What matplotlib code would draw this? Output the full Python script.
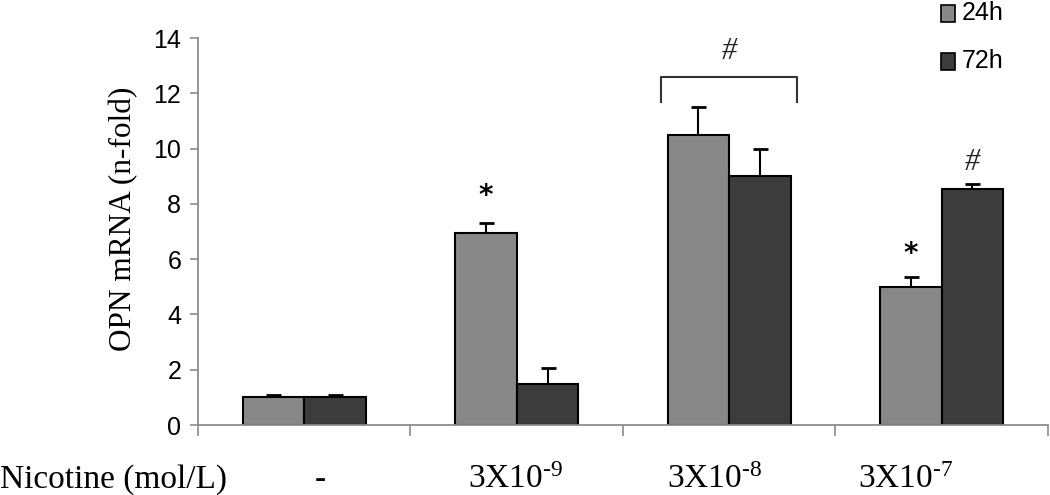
import numpy as np
import matplotlib.pyplot as plt

plt.rcParams['mathtext.fontset'] = 'custom'
plt.rcParams['mathtext.rm'] = 'Liberation Serif'
plt.rcParams['mathtext.it'] = 'Liberation Serif:italic'

# data
groups = ['-', r'3X10$^{\mathrm{\text{-}9}}$', r'3X10$^{\mathrm{\text{-}8}}$', r'3X10$^{\mathrm{\text{-}7}}$']
mean_24h = [1.0, 6.95, 10.5, 5.0]
err_24h = [0.1, 0.35, 1.0, 0.37]
mean_72h = [1.0, 1.5, 9.0, 8.55]
err_72h = [0.1, 0.55, 1.0, 0.17]
yticks = [0, 2, 4, 6, 8, 10, 12, 14]

c24 = '#888888'
c72 = '#3c3c3c'
axis_col = '#8c8c8c'

fig = plt.figure(figsize=(10.5, 4.95), dpi=100)
ax = fig.add_axes([0.1886, 0.1414, 0.8094, 0.7818])

x = np.arange(len(groups)) + 0.5
w = 0.29
ax.bar(x - w / 2, mean_24h, w, color=c24, edgecolor='black', linewidth=1.5, zorder=2)
ax.bar(x + w / 2, mean_72h, w, color=c72, edgecolor='black', linewidth=1.5, zorder=2)
ax.errorbar(x - w / 2, mean_24h, yerr=[np.zeros(4), err_24h], fmt='none',
            ecolor='black', elinewidth=1.5, capsize=5.4, capthick=2, zorder=1)
ax.errorbar(x + w / 2, mean_72h, yerr=[np.zeros(4), err_72h], fmt='none',
            ecolor='black', elinewidth=1.5, capsize=5.4, capthick=2, zorder=1)

ax.set_xlim(0, 4)
ax.set_ylim(0, 14)
ax.set_yticks(yticks)
ax.set_xticks([0, 1, 2, 3, 4])
ax.set_xticklabels([])
ax.tick_params(axis='y', direction='out', length=6, color=axis_col, width=1.2,
               labelsize=18, pad=6)
ax.tick_params(axis='x', direction='out', length=8, color=axis_col, width=1.2)
for s in ['top', 'right']:
    ax.spines[s].set_visible(False)
for s in ['left', 'bottom']:
    ax.spines[s].set_color(axis_col)
    ax.spines[s].set_linewidth(1.3)

for lab in ax.get_yticklabels():
    lab.set_family('Liberation Sans')

ax.set_ylabel('OPN mRNA (n-fold)', family='Liberation Serif', fontsize=22.5)
ax.yaxis.set_label_coords(-0.07, 0.532)

# significance marks
star_kw = dict(ha='center', va='center', fontsize=20, family='DejaVu Sans',
               fontweight='bold')
ax.text(x[1] - w / 2, 8.3, '*', **star_kw)
ax.text(x[3] - w / 2, 6.2, '*', **star_kw)
hash_kw = dict(ha='center', va='center', fontsize=22, family='Liberation Serif',
               style='italic', color='#222222')
ax.text(x[3] + w / 2, 9.5, '#', **hash_kw)
ax.text(x[2], 13.5, '#', **hash_kw)
ax.plot([x[2] - 0.32, x[2] - 0.32, x[2] + 0.32, x[2] + 0.32],
        [11.7, 12.6, 12.6, 11.7], color='#333333', lw=1.5, clip_on=False)

# category labels under the axis
fig.text(0.0, 0.015, 'Nicotine (mol/L)', family='Liberation Serif', fontsize=24,
         ha='left', va='baseline')
label_px = [320, 515, 715, 906]
for lx, g in zip(label_px, groups):
    fig.text(lx / 1050, 0.015, g, family='Liberation Serif', fontsize=24,
             ha='center', va='baseline')

# legend
for i, (lab, c) in enumerate([('24h', c24), ('72h', c72)]):
    ytop = 495 - 5 - i * 48
    fig.patches.append(plt.Rectangle((941 / 1050, (ytop - 17) / 495), 14 / 1050, 17 / 495,
                                     transform=fig.transFigure, facecolor=c,
                                     edgecolor='black', linewidth=1.2))
    fig.text(962 / 1050, (ytop - 8.5) / 495, lab, family='Liberation Sans',
             fontsize=18, ha='left', va='center')

fig.savefig('out.png', dpi=100)
